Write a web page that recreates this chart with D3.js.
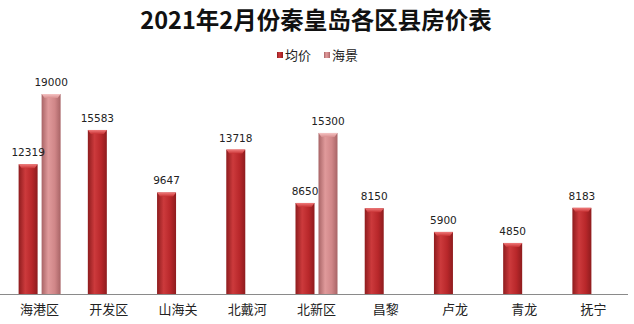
<!DOCTYPE html>
<html>
<head>
<meta charset="utf-8">
<script src="https://cdn.jsdelivr.net/npm/d3@7"></script>
<style>
  html, body { margin: 0; padding: 0; background: #fff; }
  svg { display: block; }
</style>
</head>
<body>
<svg id="chart" width="634" height="324"></svg>
<script>
// Districts and their housing prices (yuan / m²), February 2021
const categories = ["海港区", "开发区", "山海关", "北戴河", "北新区", "昌黎", "卢龙", "青龙", "抚宁"];
const avgPrice   = [12319, 15583, 9647, 13718, 8650, 8150, 5900, 4850, 8183];
const seaView    = [19000, null, null, null, 15300, null, null, null, null];
const seriesNames = ["均价", "海景"];

const W = 634, H = 324;
const svg = d3.select("#chart");
const defs = svg.append("defs");

// Horizontal cylinder-like shading for each series
function barGradient(id, edge, mid, light) {
  const g = defs.append("linearGradient").attr("id", id)
    .attr("x1", "0%").attr("x2", "100%").attr("y1", "0%").attr("y2", "0%");
  g.append("stop").attr("offset", "0%").attr("stop-color", edge);
  g.append("stop").attr("offset", "35%").attr("stop-color", light);
  g.append("stop").attr("offset", "70%").attr("stop-color", mid);
  g.append("stop").attr("offset", "100%").attr("stop-color", edge);
}
barGradient("gAvg", "#8e1c1e", "#b8272a", "#cc3a3c");
barGradient("gSea", "#a86466", "#d08688", "#e09a9b");

// Lighter bevel on the top of each bar
function capGradient(id, top, bottom) {
  const g = defs.append("linearGradient").attr("id", id)
    .attr("x1", "0%").attr("x2", "0%").attr("y1", "0%").attr("y2", "100%");
  g.append("stop").attr("offset", "0%").attr("stop-color", top);
  g.append("stop").attr("offset", "100%").attr("stop-color", bottom);
}
capGradient("cAvg", "#f07b7b", "#c83234");
capGradient("cSea", "#f5c4c4", "#d98f90");

const baseY = 294;
const x = d3.scaleBand().domain(categories).range([5, 628]).padding(0);
const y = d3.scaleLinear().domain([0, 19000]).range([baseY, 94]);

const barW = 19, gap = 4;

// Title
svg.append("text")
  .attr("x", 316).attr("y", 29)
  .attr("text-anchor", "middle")
  .attr("font-family", "'Noto Sans CJK SC', sans-serif")
  .attr("font-weight", "bold")
  .attr("font-size", 23.5)
  .attr("fill", "#111")
  .text("2021年2月份秦皇岛各区县房价表");

// Legend
const legend = svg.append("g");
const legendItems = [
  { name: seriesNames[0], x: 277, fill: "url(#gAvg)" },
  { name: seriesNames[1], x: 324, fill: "url(#gSea)" }
];
legendItems.forEach(d => {
  legend.append("rect").attr("x", d.x).attr("y", 52).attr("width", 6).attr("height", 6)
    .attr("fill", d.fill);
  legend.append("text").attr("x", d.x + 8).attr("y", 60)
    .attr("font-family", "'Noto Sans CJK SC', sans-serif")
    .attr("font-size", 13).attr("fill", "#222").text(d.name);
});

// Bars
const bars = [];
categories.forEach((c, i) => {
  const cx = x(c) + x.bandwidth() / 2;
  bars.push({ cat: c, value: avgPrice[i], x0: cx - gap / 2 - barW, fill: "gAvg", cap: "cAvg" });
  if (seaView[i] != null)
    bars.push({ cat: c, value: seaView[i], x0: cx + gap / 2, fill: "gSea", cap: "cSea" });
});

const bg = svg.append("g").selectAll("g").data(bars).join("g");
bg.append("rect")
  .attr("x", d => d.x0).attr("y", d => y(d.value))
  .attr("width", barW).attr("height", d => baseY - y(d.value))
  .attr("fill", d => `url(#${d.fill})`);
bg.append("path")
  .attr("d", d => {
    const t = y(d.value), l = d.x0, r = d.x0 + barW;
    return `M${l},${t}L${r},${t}L${r - 3},${t + 4}L${l + 3},${t + 4}Z`;
  })
  .attr("fill", d => `url(#${d.cap})`);

// Value labels, drawn above all bars
svg.append("g").selectAll("text").data(bars).join("text")
  .attr("x", d => d.x0 + barW / 2).attr("y", d => y(d.value) - 8)
  .attr("text-anchor", "middle")
  .attr("font-family", "'DejaVu Sans', sans-serif")
  .attr("font-size", 10.5).attr("fill", "#222")
  .text(d => d.value);

// X axis
const xAxis = svg.append("g").attr("transform", `translate(0,${baseY})`)
  .call(d3.axisBottom(x).tickSize(0).tickPadding(11));
xAxis.select(".domain").attr("stroke", "#8a8a8a").attr("d", "M0,0.5H628");
xAxis.selectAll("text")
  .attr("font-family", "'Noto Sans CJK SC', sans-serif")
  .attr("font-size", 13).attr("fill", "#222");
</script>
</body>
</html>
